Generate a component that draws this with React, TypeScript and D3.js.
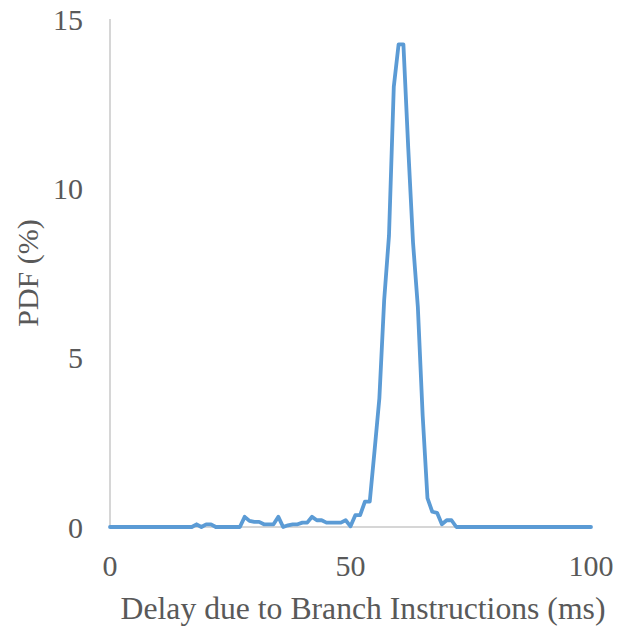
import React from "react";
import * as d3 from "d3";

const delayMs: number[] = d3.range(0, 101);
const pdfPercent: number[] = [
  0, 0, 0, 0, 0, 0, 0, 0, 0, 0,
  0, 0, 0, 0, 0, 0, 0, 0, 0.08, 0,
  0.08, 0.08, 0, 0, 0, 0, 0, 0, 0.3, 0.18,
  0.15, 0.15, 0.08, 0.08, 0.08, 0.3, 0, 0.05, 0.08, 0.08,
  0.13, 0.13, 0.3, 0.2, 0.2, 0.13, 0.13, 0.13, 0.13, 0.2,
  0.02, 0.35, 0.35, 0.75, 0.75, 2.25, 3.8, 6.7, 8.6, 13.0,
  14.25, 14.25, 11.2, 8.4, 6.5, 3.3, 0.85, 0.45, 0.42, 0.08,
  0.2, 0.2, 0, 0, 0, 0, 0, 0, 0, 0,
  0, 0, 0, 0, 0, 0, 0, 0, 0, 0,
  0, 0, 0, 0, 0, 0, 0, 0, 0, 0,
  0,
];
const xTicks: number[] = [0, 50, 100];
const yTicks: number[] = [0, 5, 10, 15];
const xTitle = "Delay due to Branch Instructions (ms)";
const yTitle = "PDF (%)";

export default function App() {
  const W = 617;
  const H = 628;
  const x = d3.scaleLinear().domain([0, 100]).range([110, 591]);
  const y = d3.scaleLinear().domain([0, 15]).range([527, 19]);
  const pts = delayMs.map((d, i) => [d, pdfPercent[i]] as [number, number]);
  const line = d3
    .line<[number, number]>()
    .x((d) => x(d[0]))
    .y((d) => y(d[1]));
  const font = "'Liberation Serif', 'Times New Roman', serif";
  const textColor = "#595959";
  return (
    <svg
      width={W}
      height={H}
      style={{ position: "absolute", left: 0, top: 0, background: "#fff" }}
    >
      <line x1={x(0)} x2={x(100)} y1={y(0)} y2={y(0)} stroke="#c8c8c8" strokeWidth={1.5} />
      <line x1={x(0)} x2={x(0)} y1={y(0)} y2={y(15)} stroke="#c8c8c8" strokeWidth={1.5} />
      <path
        d={line(pts) || ""}
        fill="none"
        stroke="#5B9BD5"
        strokeWidth={3.8}
        strokeLinejoin="round"
        strokeLinecap="round"
      />
      {yTicks.map((t) => (
        <text
          key={"y" + t}
          x={83}
          y={y(t)}
          dy="0.35em"
          textAnchor="end"
          fontFamily={font}
          fontSize={30}
          fill={textColor}
        >
          {t}
        </text>
      ))}
      {xTicks.map((t) => (
        <text
          key={"x" + t}
          x={x(t)}
          y={565}
          dy="0.35em"
          textAnchor="middle"
          fontFamily={font}
          fontSize={30}
          fill={textColor}
        >
          {t}
        </text>
      ))}
      <text
        x={363}
        y={608}
        dy="0.35em"
        textAnchor="middle"
        fontFamily={font}
        fontSize={31.7}
        fill={textColor}
      >
        {xTitle}
      </text>
      <text
        transform={`translate(27,273) rotate(-90)`}
        dy="0.35em"
        textAnchor="middle"
        fontFamily={font}
        fontSize={30}
        fill={textColor}
      >
        {yTitle}
      </text>
    </svg>
  );
}
